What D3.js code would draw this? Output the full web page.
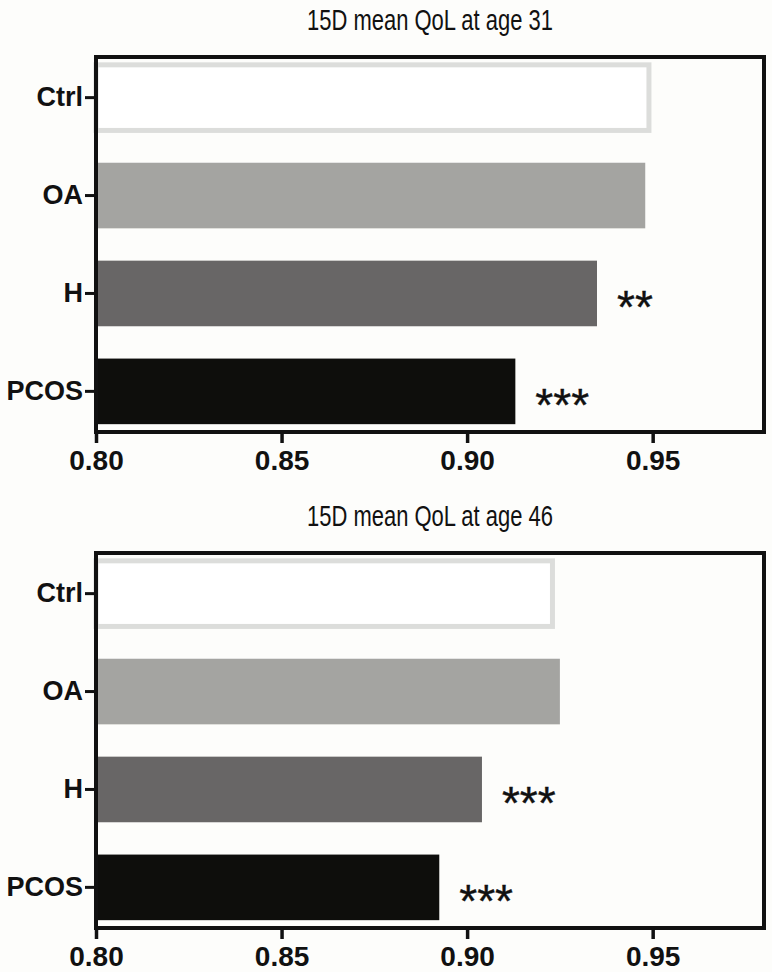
<!DOCTYPE html>
<html>
<head>
<meta charset="utf-8">
<script src="https://cdn.jsdelivr.net/npm/d3@7"></script>
<style>
  html, body { margin: 0; padding: 0; background: #fdfdfb; }
  svg { display: block; }
</style>
</head>
<body>
<svg id="chart" width="772" height="972"></svg>
<script>
// ---- data ----
const categories = ["Ctrl", "OA", "H", "PCOS"];
const qolAge31 = [0.949, 0.948, 0.935, 0.913];
const qolAge46 = [0.923, 0.925, 0.904, 0.8925];
const sigAge31 = ["", "", "**", "***"];
const sigAge46 = ["", "", "***", "***"];
const xTickValues = [0.80, 0.85, 0.90, 0.95];
const xDomain = [0.80, 0.98];
const panelTitles = ["15D mean QoL at age 31", "15D mean QoL at age 46"];

// ---- styles ----
const barFill = { Ctrl: "#ffffff", OA: "#a4a4a1", H: "#686666", PCOS: "#0e0e0c" };
const ctrlStroke = "#dcdddb";
const font = "'Liberation Sans', Arial, Helvetica, sans-serif";

const svg = d3.select("#chart");

const x = d3.scaleLinear().domain(xDomain).range([96, 764]);

function drawPanel(values, sig, title, top) {
  const g = svg.append("g").attr("transform", `translate(0,${top})`);
  const plotTop = 57, plotBottom = 432;
  const y = d3.scaleBand().domain(categories).range([plotTop, plotBottom])
    .paddingInner(0.33).paddingOuter(0.08);

  const rows = categories.map((c, i) => ({ c, v: values[i], s: sig[i] }));

  // title
  g.append("text")
    .attr("x", (x.range()[0] + x.range()[1]) / 2)
    .attr("y", 30)
    .attr("text-anchor", "middle")
    .attr("font-family", font)
    .attr("font-size", 30)
    .attr("textLength", 246)
    .attr("lengthAdjust", "spacingAndGlyphs")
    .attr("fill", "#111")
    .text(title);

  // bars
  g.selectAll("rect.bar").data(rows).enter().append("rect")
    .attr("class", "bar")
    .attr("x", x(xDomain[0]))
    .attr("y", d => y(d.c))
    .attr("width", d => x(d.v) - x(xDomain[0]))
    .attr("height", y.bandwidth())
    .attr("fill", d => barFill[d.c])
    .attr("stroke", d => d.c === "Ctrl" ? ctrlStroke : "none")
    .attr("stroke-width", d => d.c === "Ctrl" ? 5 : 0);

  // significance stars
  const starSize = 46;
  g.selectAll("text.sig").data(rows.filter(d => d.s)).enter().append("text")
    .attr("class", "sig")
    .attr("x", d => x(d.v) + 20)
    .attr("y", d => y(d.c) + y.bandwidth() / 2 + 3 + 0.585 * starSize)
    .attr("font-family", font)
    .attr("font-size", starSize)
    .attr("fill", "#111")
    .attr("stroke", "#111")
    .attr("stroke-width", 0.4)
    .text(d => d.s);

  // frame
  g.append("rect")
    .attr("x", x.range()[0]).attr("y", plotTop)
    .attr("width", x.range()[1] - x.range()[0])
    .attr("height", plotBottom - plotTop)
    .attr("fill", "none").attr("stroke", "#111").attr("stroke-width", 4);

  // x axis
  const xAxis = g.append("g")
    .attr("transform", `translate(0,${plotBottom})`)
    .call(d3.axisBottom(x).tickValues(xTickValues).tickFormat(d3.format(".2f"))
      .tickSize(11).tickPadding(7));
  xAxis.select(".domain").remove();
  xAxis.selectAll(".tick line").attr("stroke", "#111").attr("stroke-width", 3.5);
  xAxis.selectAll(".tick text")
    .attr("font-family", font).attr("font-size", 28).attr("font-weight", "bold")
    .attr("fill", "#111");

  // y axis
  const yAxis = g.append("g")
    .attr("transform", `translate(${x.range()[0]},0)`)
    .call(d3.axisLeft(y).tickSize(11).tickPadding(2));
  yAxis.select(".domain").remove();
  yAxis.selectAll(".tick line").attr("stroke", "#111").attr("stroke-width", 3);
  yAxis.selectAll(".tick text")
    .attr("font-family", font).attr("font-size", 27).attr("font-weight", "bold")
    .attr("fill", "#111");
}

drawPanel(qolAge31, sigAge31, panelTitles[0], 0);
drawPanel(qolAge46, sigAge46, panelTitles[1], 496);
</script>
</body>
</html>
